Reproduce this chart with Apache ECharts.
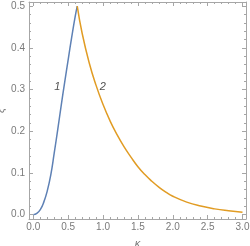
<!DOCTYPE html>
<html>
<head>
<meta charset="utf-8">
<script src="https://cdn.jsdelivr.net/npm/echarts@6/dist/echarts.min.js"></script>
<style>html,body{margin:0;padding:0;background:#fff}#c{width:250px;height:246px}</style>
</head>
<body>
<div id="c"></div>
<script>
// Curve 1 (rising branch)
const kappa1 = [0, 0.05, 0.1, 0.15, 0.2, 0.25, 0.3, 0.35, 0.4, 0.45, 0.5, 0.55, 0.6, 0.63];
const xi1    = [0, 0.003, 0.012, 0.03, 0.057, 0.095, 0.148, 0.204, 0.262, 0.318, 0.372, 0.425, 0.475, 0.5];
// Curve 2 (decaying branch)
const kappa2 = [0.63, 0.7, 0.8, 0.9, 1.0, 1.1, 1.2, 1.3, 1.4, 1.5, 1.6, 1.7, 1.8, 1.9, 2.0, 2.2, 2.4, 2.6, 2.8, 3.0];
const xi2    = [0.5, 0.435, 0.365, 0.31, 0.264, 0.225, 0.192, 0.163, 0.138, 0.115, 0.096, 0.08, 0.066, 0.054, 0.044, 0.03, 0.0205, 0.0138, 0.0092, 0.0057];
// Curve labels
const curveNames = ['1', '2'];
const labelKappa = [0.344, 0.996];
const labelXi = [0.307, 0.307];
// Ticks
const xMajor = [0, 0.5, 1.0, 1.5, 2.0, 2.5, 3.0];
const xMinor = [0.1,0.2,0.3,0.4,0.6,0.7,0.8,0.9,1.1,1.2,1.3,1.4,1.6,1.7,1.8,1.9,2.1,2.2,2.3,2.4,2.6,2.7,2.8,2.9];
const yMajor = [0, 0.1, 0.2, 0.3, 0.4, 0.5];
const yMinor = [0.02,0.04,0.06,0.08,0.12,0.14,0.16,0.18,0.22,0.24,0.26,0.28,0.32,0.34,0.36,0.38,0.42,0.44,0.46,0.48];

const X_MIN = -0.062, X_MAX = 3.05, Y_MIN = -0.0105, Y_MAX = 0.51;
const frameColor = '#a6a6a6';
const labelColor = '#7a7a7a';
const font = 'Liberation Sans, Arial, sans-serif';

function xAx(pos, ticks, len, showLabel, showLine, extra) {
  return Object.assign({
    type: 'value', position: pos, min: X_MIN, max: X_MAX,
    axisLine: { show: showLine, onZero: false, lineStyle: { color: frameColor, width: 1 } },
    axisTick: { show: true, inside: true, length: len, customValues: ticks, lineStyle: { color: frameColor, width: 1 } },
    axisLabel: showLabel ? { show: true, customValues: ticks, formatter: v => v.toFixed(1), color: labelColor, fontSize: 10, fontFamily: font, margin: 3 } : { show: false },
    splitLine: { show: false }
  }, extra || {});
}
function yAx(pos, ticks, len, showLabel, showLine, extra) {
  return Object.assign({
    type: 'value', position: pos, min: Y_MIN, max: Y_MAX,
    axisLine: { show: showLine, onZero: false, lineStyle: { color: frameColor, width: 1 } },
    axisTick: { show: true, inside: true, length: len, customValues: ticks, lineStyle: { color: frameColor, width: 1 } },
    axisLabel: showLabel ? { show: true, customValues: ticks, formatter: v => v.toFixed(1), color: labelColor, fontSize: 10, fontFamily: font, margin: 4 } : { show: false },
    splitLine: { show: false }
  }, extra || {});
}

const chart = echarts.init(document.getElementById('c'), null, { renderer: 'canvas' });
const labelSeries = curveNames.map((n, i) => ({
  type: 'scatter', xAxisIndex: 0, yAxisIndex: 0, silent: true,
  symbol: 'circle', symbolSize: 0, itemStyle: { color: 'rgba(0,0,0,0)' },
  label: { show: true, position: 'inside', color: '#222', fontSize: 11, fontStyle: 'italic', fontFamily: font, formatter: () => n },
  data: [[labelKappa[i], labelXi[i]]]
}));
chart.setOption({
  animation: false,
  grid: { left: 29, right: 4, top: 2, bottom: 27, containLabel: false, outerBoundsMode: 'none' },
  xAxis: [
    xAx('bottom', xMajor, 4, true, true, { name: 'κ', nameLocation: 'middle', nameGap: 19, nameMoveOverlap: false, nameTextStyle: { color: labelColor, fontSize: 11, fontStyle: 'italic', fontFamily: font } }),
    xAx('bottom', xMinor, 2, false, false),
    xAx('top', xMajor, 4, false, true),
    xAx('top', xMinor, 2, false, false)
  ],
  yAxis: [
    yAx('left', yMajor, 4, true, true, { name: 'ξ', nameLocation: 'middle', nameGap: 23, nameRotate: 90, nameMoveOverlap: false, nameTextStyle: { color: labelColor, fontSize: 11, fontStyle: 'italic', fontFamily: font } }),
    yAx('left', yMinor, 2, false, false),
    yAx('right', yMajor, 4, false, true),
    yAx('right', yMinor, 2, false, false)
  ],
  series: [
    {
      type: 'line', xAxisIndex: 0, yAxisIndex: 0, smooth: true, symbol: 'none',
      lineStyle: { color: '#5E81B5', width: 1.5 },
      data: kappa1.map((k, i) => [k, xi1[i]])
    },
    {
      type: 'line', xAxisIndex: 0, yAxisIndex: 0, smooth: true, symbol: 'none',
      lineStyle: { color: '#E19C24', width: 1.5 },
      data: kappa2.map((k, i) => [k, xi2[i]])
    }
  ].concat(labelSeries)
});
</script>
</body>
</html>
